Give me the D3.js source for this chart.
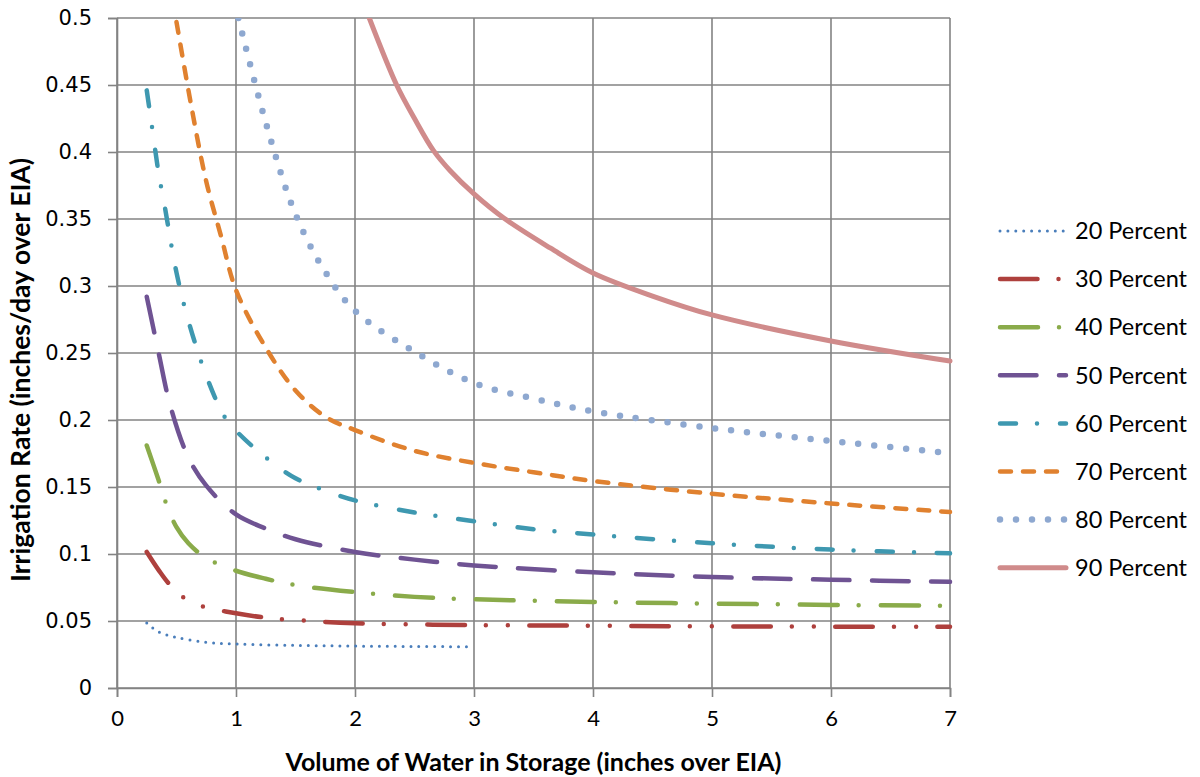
<!DOCTYPE html>
<html>
<head>
<meta charset="utf-8">
<script src="https://cdn.jsdelivr.net/npm/d3@7"></script>
<style>
  body { margin: 0; background: #fff; }
  #chart text { fill: #000; }
</style>
</head>
<body>
<div id="chart"></div>
<script>
// series names and styles come from the legend
var seriesNames = ["20 Percent", "30 Percent", "40 Percent", "50 Percent",
                   "60 Percent", "70 Percent", "80 Percent", "90 Percent"];

// x = volume of water in storage, y = irrigation rate
var x20 = [0.25, 0.35, 0.5, 0.75, 1, 1.5, 2, 2.5, 3];
var y20 = [0.0485, 0.0418, 0.0378, 0.0341, 0.0328, 0.0318, 0.0313, 0.031, 0.0308];

var x30 = [0.25, 0.35, 0.45, 0.6, 0.75, 1, 1.25, 1.5, 2, 3, 4, 5, 6, 7];
var y30 = [0.1015, 0.088, 0.0765, 0.065, 0.0602, 0.0558, 0.0525, 0.0507, 0.0483, 0.047, 0.0465, 0.046, 0.0458, 0.0457];

var x40 = [0.25, 0.35, 0.42, 0.5, 0.6, 0.75, 1, 1.25, 1.5, 2, 2.5, 3, 4, 5, 6, 7];
var y40 = [0.181, 0.155, 0.136, 0.120, 0.108, 0.097, 0.0875, 0.0815, 0.0768, 0.0716, 0.068, 0.0662, 0.0642, 0.063, 0.062, 0.0614];

var x50 = [0.25, 0.35, 0.45, 0.6, 0.75, 1, 1.25, 1.5, 2, 2.5, 3, 4, 5, 6, 7];
var y50 = [0.292, 0.25, 0.21, 0.172, 0.151, 0.1295, 0.119, 0.111, 0.1015, 0.0958, 0.0915, 0.0863, 0.0828, 0.0808, 0.0792];

var x60 = [0.25, 0.3, 0.35, 0.4, 0.5, 0.6, 0.75, 0.9, 1, 1.25, 1.5, 1.75, 2, 2.5, 3, 3.5, 4, 5, 6, 7];
var y60 = [0.446, 0.415, 0.384, 0.36, 0.31, 0.274, 0.233, 0.203, 0.192, 0.172, 0.1565, 0.1473, 0.140, 0.131, 0.1244, 0.1185, 0.1146, 0.108, 0.1033, 0.1005];

var x70 = [0.5, 0.625, 0.75, 0.875, 1, 1.25, 1.5, 1.75, 2, 2.5, 3, 3.5, 4, 5, 6, 7];
var y70 = [0.497, 0.434, 0.378, 0.337, 0.297, 0.254, 0.222, 0.2025, 0.1925, 0.177, 0.168, 0.161, 0.1545, 0.145, 0.1377, 0.1313];

var x80 = [1.02, 1.25, 1.5, 1.75, 2, 2.5, 3, 3.5, 4, 5, 6, 7];
var y80 = [0.5, 0.422, 0.3535, 0.3105, 0.2815, 0.251, 0.2276, 0.216, 0.2065, 0.194, 0.1843, 0.1753];

var x90 = [2.12, 2.35, 2.5, 2.66, 2.8, 3, 3.25, 3.64, 4, 4.5, 5, 6, 7];
var y90 = [0.5, 0.45, 0.425, 0.401, 0.386, 0.3687, 0.3507, 0.3284, 0.3097, 0.2925, 0.2784, 0.259, 0.244];

var xTicks = [0, 1, 2, 3, 4, 5, 6, 7];
var yTicks = [0, 0.05, 0.1, 0.15, 0.2, 0.25, 0.3, 0.35, 0.4, 0.45, 0.5];

var allX = [x20, x30, x40, x50, x60, x70, x80, x90];
var allY = [y20, y30, y40, y50, y60, y70, y80, y90];

// line look per series (Excel-ish dash types)
var styles = [
    { color: "#4a7ebb", width: 3, dash: "0,7.9" },
    { color: "#ae403d", width: 4.5, dash: "37.5,21,0,22,0,21.5" },
    { color: "#8aab4a", width: 4.5, dash: "38,21,0,22" },
    { color: "#6f5393", width: 4.5, dash: "36.5,22.5" },
    { color: "#3e98b0", width: 4.5, dash: "16,21,0,23" },
    { color: "#e0812f", width: 4.5, dash: "11,12" },
    { color: "#8ea8d0", width: 6.5, dash: "0,16" },
    { color: "#d08b8b", width: 5, dash: null }
];

var margin = { top: 18, right: 250, bottom: 89, left: 117 },
    width = 1200 - margin.left - margin.right,
    height = 777 - margin.top - margin.bottom;

var svg = d3.select("#chart")
    .append("svg")
    .attr("width", 1200)
    .attr("height", 777);

var g = svg.append("g")
    .attr("transform", "translate(" + margin.left + "," + margin.top + ")");

var x = d3.scaleLinear().domain([0, 7]).range([0, width]);
var y = d3.scaleLinear().domain([0, 0.5]).range([height, 0]);

var gridColor = "#838383";

// gridlines
g.append("g")
    .selectAll("line")
    .data(yTicks)
    .enter()
    .append("line")
    .attr("x1", 0).attr("x2", width)
    .attr("y1", function (d) { return y(d); })
    .attr("y2", function (d) { return y(d); })
    .attr("stroke", gridColor)
    .attr("stroke-width", 1.6);

g.append("g")
    .selectAll("line")
    .data(xTicks)
    .enter()
    .append("line")
    .attr("y1", 0).attr("y2", height)
    .attr("x1", function (d) { return x(d); })
    .attr("x2", function (d) { return x(d); })
    .attr("stroke", gridColor)
    .attr("stroke-width", 1.6);

// axes
var yAxis = g.append("g")
    .call(d3.axisLeft(y).tickValues(yTicks).tickSize(9).tickPadding(16)
        .tickFormat(function (d) { return d3.format("")(+d.toFixed(2)); }));
yAxis.selectAll("line, path").attr("stroke", gridColor).attr("stroke-width", 1.6);
yAxis.selectAll("text")
    .style("font-family", "'DejaVu Sans', Verdana, sans-serif")
    .style("font-size", "21px");

var xAxis = g.append("g")
    .attr("transform", "translate(0," + height + ")")
    .call(d3.axisBottom(x).tickValues(xTicks).tickSize(9).tickPadding(13)
        .tickFormat(d3.format("d")));
xAxis.selectAll("line, path").attr("stroke", gridColor).attr("stroke-width", 1.6);
xAxis.selectAll("text")
    .style("font-family", "Lato, 'Open Sans', sans-serif")
    .style("font-size", "22px");

// titles
svg.append("text")
    .attr("x", margin.left + width / 2)
    .attr("y", 771)
    .attr("text-anchor", "middle")
    .style("font-family", "Lato, sans-serif")
    .style("font-weight", "bold")
    .style("font-size", "25px")
    .text("Volume of Water in Storage (inches over EIA)");

svg.append("text")
    .attr("transform", "translate(30,370) rotate(-90)")
    .attr("text-anchor", "middle")
    .style("font-family", "Lato, sans-serif")
    .style("font-weight", "bold")
    .style("font-size", "26.5px")
    .text("Irrigation Rate (inches/day over EIA)");

// lines
svg.append("defs").append("clipPath")
    .attr("id", "plotClip")
    .append("rect")
    .attr("x", 0).attr("y", 0)
    .attr("width", width + 3).attr("height", height);

var dataReady = seriesNames.map(function (name, i) {
    return {
        name: name,
        style: styles[i],
        values: allX[i].map(function (v, j) { return { x: v, y: allY[i][j] }; })
    };
});

var line = d3.line()
    .curve(d3.curveCatmullRom.alpha(0.5))
    .x(function (d) { return x(d.x); })
    .y(function (d) { return y(d.y); });

g.append("g")
    .attr("clip-path", "url(#plotClip)")
    .selectAll("path")
    .data(dataReady)
    .enter()
    .append("path")
    .attr("d", function (d) { return line(d.values); })
    .attr("fill", "none")
    .attr("stroke", function (d) { return d.style.color; })
    .attr("stroke-width", function (d) { return d.style.width; })
    .attr("stroke-linecap", "round")
    .attr("stroke-linejoin", "round")
    .attr("stroke-dasharray", function (d) { return d.style.dash; });

// legend
var legend = svg.append("g")
    .selectAll("g")
    .data(dataReady)
    .enter()
    .append("g")
    .attr("transform", function (d, i) { return "translate(0," + (231 + i * 48.1) + ")"; });

legend.append("line")
    .attr("x1", 1000).attr("x2", 1066)
    .attr("y1", 0).attr("y2", 0)
    .attr("stroke", function (d) { return d.style.color; })
    .attr("stroke-width", function (d) { return d.style.width; })
    .attr("stroke-linecap", "round")
    .attr("stroke-dasharray", function (d) { return d.style.dash; });

legend.append("text")
    .attr("x", 1075)
    .attr("y", 0)
    .attr("dy", "0.35em")
    .style("font-family", "Lato, 'Open Sans', sans-serif")
    .style("font-size", "23.5px")
    .text(function (d) { return d.name; });
</script>
</body>
</html>
